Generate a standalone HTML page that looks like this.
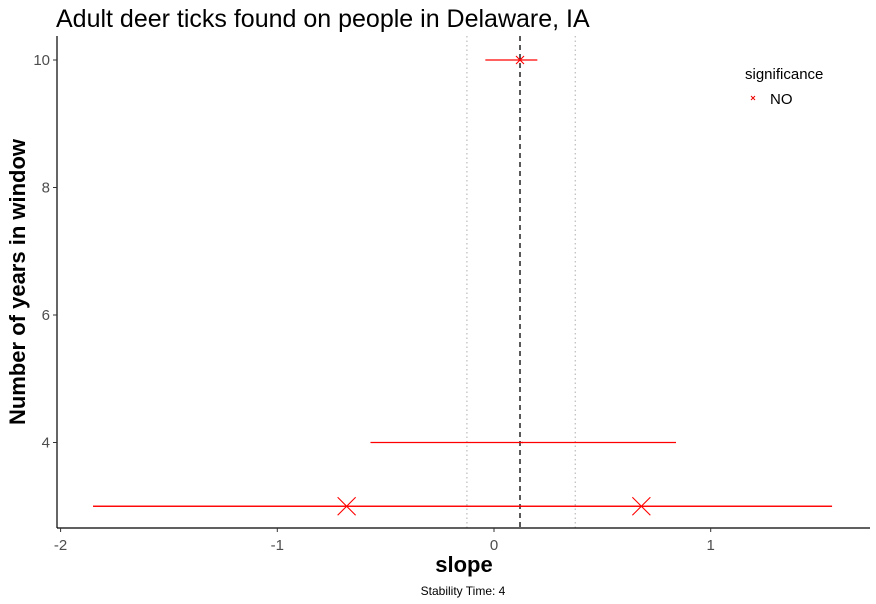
<!DOCTYPE html>
<html><head><meta charset="utf-8"><style>
html,body{margin:0;padding:0;background:#fff;}
svg{display:block;font-family:"Liberation Sans",Arial,sans-serif;}
</style></head><body>
<svg id="chart" width="876" height="604" xmlns="http://www.w3.org/2000/svg">
<text x="56" y="27" font-size="25" fill="#000">Adult deer ticks found on people in Delaware, IA</text>
<g id="grid"></g>
<g id="marks"></g>
<line x1="57" y1="36" x2="57" y2="528" stroke="#000" stroke-width="1.2"/>
<line x1="57" y1="528" x2="870" y2="528" stroke="#000" stroke-width="1.2"/>
<g id="ticks"></g>
<text x="464" y="572" font-size="22" font-weight="bold" text-anchor="middle">slope</text>
<text transform="translate(25,282) rotate(-90)" font-size="22" font-weight="bold" text-anchor="middle">Number of years in window</text>
<text x="463" y="595" font-size="12" text-anchor="middle">Stability Time: 4</text>
<g>
<text x="745" y="79" font-size="15">significance</text>
<g>
<path d="M751,96 l4,4 M755,96 l-4,4" stroke="#e00" stroke-width="1"/>
<text x="770" y="104" font-size="15">NO</text>
</g></g>
</svg>
<script>
const xTicks=[-2,-1,0,1];
const yTicks=[4,6,8,10];
const windowYears=[10,4,3,3];
const slopes=[0.12,0.13,-0.68,0.68];
const ciLow=[-0.04,-0.57,-1.85,-1.85];
const ciHigh=[0.2,0.84,1.56,1.56];
const markSizes=[4,0.5,9,9];
const refLine=[0.12];
const refBand=[-0.125,0.375];

const X=v=>494+v*216.7;
const Y=v=>60+(10-v)*63.75;
const NS="http://www.w3.org/2000/svg";
function mk(t,a,p){const e=document.createElementNS(NS,t);for(const k in a)e.setAttribute(k,a[k]);p.appendChild(e);return e;}
const grid=document.getElementById('grid'),marks=document.getElementById('marks'),ticks=document.getElementById('ticks');
refBand.forEach(v=>{
 const l=mk('line',{x1:X(v),x2:X(v),y1:36,y2:528,stroke:'#bbb','stroke-width':1.2,'stroke-dasharray':'1.5,3'},grid);
 
 
});
refLine.forEach(v=>{
 const l=mk('line',{x1:X(v),x2:X(v),y1:36,y2:528,stroke:'#000','stroke-width':1.3,'stroke-dasharray':'5,4'},grid);
 
 
});
windowYears.forEach((y,i)=>{
 const l=mk('line',{x1:X(ciLow[i]),x2:X(ciHigh[i]),y1:Y(y),y2:Y(y),stroke:'#f00','stroke-width':1.3},marks);
 
 
 const s=markSizes[i],cx=X(slopes[i]),cy=Y(y);
 const p=mk('path',{d:`M${cx-s},${cy-s}L${cx+s},${cy+s}M${cx+s},${cy-s}L${cx-s},${cy+s}`,stroke:'#f00','stroke-width':1.1},marks);
 
 
});
xTicks.forEach(v=>{
 const l=mk('line',{x1:X(v),x2:X(v),y1:528,y2:532,stroke:'#333'},ticks);
 
 
 const t=mk('text',{x:X(v),y:550,'font-size':15,'text-anchor':'middle',fill:'#4d4d4d'},ticks);
 t.textContent=v;
 
 
});
yTicks.forEach(v=>{
 const l=mk('line',{x1:53,x2:57,y1:Y(v),y2:Y(v),stroke:'#333'},ticks);
 
 
 const t=mk('text',{x:50,y:Y(v)+5,'font-size':15,'text-anchor':'end',fill:'#4d4d4d'},ticks);
 t.textContent=v;
 
 
});
</script>
</body></html>
